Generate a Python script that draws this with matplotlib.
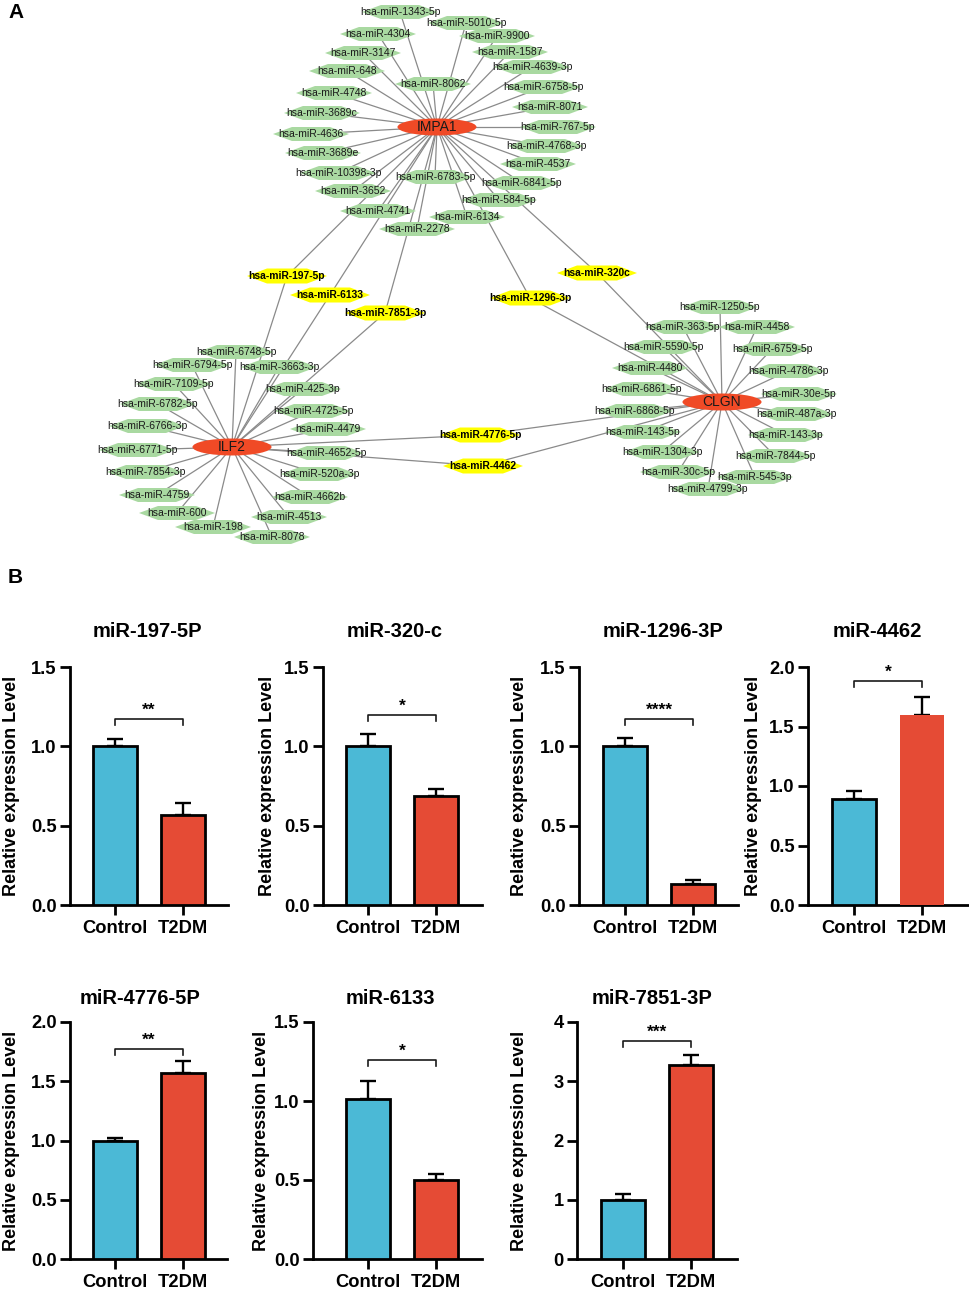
import matplotlib
matplotlib.use('Agg')
import matplotlib.pyplot as plt
from matplotlib.patches import Polygon, Ellipse

plt.rcParams['font.family'] = ['Liberation Sans', 'DejaVu Sans']

W, H = 969, 1290

# ---------------- Panel A data (network) ----------------
hubs = ['IMPA1', 'ILF2', 'CLGN']
impa1_targets = ['hsa-miR-1343-5p', 'hsa-miR-5010-5p', 'hsa-miR-4304', 'hsa-miR-9900',
                 'hsa-miR-3147', 'hsa-miR-1587', 'hsa-miR-648', 'hsa-miR-4639-3p',
                 'hsa-miR-8062', 'hsa-miR-6758-5p', 'hsa-miR-4748', 'hsa-miR-8071',
                 'hsa-miR-3689c', 'hsa-miR-767-5p', 'hsa-miR-4636', 'hsa-miR-4768-3p',
                 'hsa-miR-3689e', 'hsa-miR-4537', 'hsa-miR-10398-3p', 'hsa-miR-6783-5p',
                 'hsa-miR-6841-5p', 'hsa-miR-3652', 'hsa-miR-584-5p', 'hsa-miR-4741',
                 'hsa-miR-6134', 'hsa-miR-2278']
ilf2_targets = ['hsa-miR-6748-5p', 'hsa-miR-6794-5p', 'hsa-miR-3663-3p', 'hsa-miR-7109-5p',
                'hsa-miR-425-3p', 'hsa-miR-6782-5p', 'hsa-miR-4725-5p', 'hsa-miR-6766-3p',
                'hsa-miR-4479', 'hsa-miR-6771-5p', 'hsa-miR-4652-5p', 'hsa-miR-7854-3p',
                'hsa-miR-520a-3p', 'hsa-miR-4759', 'hsa-miR-4662b', 'hsa-miR-600',
                'hsa-miR-4513', 'hsa-miR-198', 'hsa-miR-8078']
clgn_targets = ['hsa-miR-1250-5p', 'hsa-miR-363-5p', 'hsa-miR-4458', 'hsa-miR-5590-5p',
                'hsa-miR-6759-5p', 'hsa-miR-4480', 'hsa-miR-4786-3p', 'hsa-miR-6861-5p',
                'hsa-miR-30e-5p', 'hsa-miR-6868-5p', 'hsa-miR-487a-3p', 'hsa-miR-143-5p',
                'hsa-miR-143-3p', 'hsa-miR-1304-3p', 'hsa-miR-7844-5p', 'hsa-miR-30c-5p',
                'hsa-miR-545-3p', 'hsa-miR-4799-3p']
shared_mirs = ['hsa-miR-197-5p', 'hsa-miR-6133', 'hsa-miR-7851-3p', 'hsa-miR-1296-3p',
               'hsa-miR-320c', 'hsa-miR-4776-5p', 'hsa-miR-4462']
shared_links = [['IMPA1', 'ILF2'], ['IMPA1', 'ILF2'], ['IMPA1', 'ILF2'], ['IMPA1', 'CLGN'],
                ['IMPA1', 'CLGN'], ['ILF2', 'CLGN'], ['ILF2', 'CLGN']]

# Node layout (pixel positions of the reference drawing)
layout = {
    'IMPA1': (437, 127), 'ILF2': (232, 447), 'CLGN': (722, 402),
    'hsa-miR-1343-5p': (400, 12), 'hsa-miR-5010-5p': (466, 23), 'hsa-miR-4304': (378, 34),
    'hsa-miR-9900': (497, 36), 'hsa-miR-3147': (363, 53), 'hsa-miR-1587': (510, 52),
    'hsa-miR-648': (347, 71), 'hsa-miR-4639-3p': (532, 67), 'hsa-miR-8062': (433, 84),
    'hsa-miR-6758-5p': (543, 87), 'hsa-miR-4748': (334, 93), 'hsa-miR-8071': (550, 107),
    'hsa-miR-3689c': (322, 113), 'hsa-miR-767-5p': (558, 127), 'hsa-miR-4636': (311, 134),
    'hsa-miR-4768-3p': (546, 146), 'hsa-miR-3689e': (323, 153), 'hsa-miR-4537': (538, 164),
    'hsa-miR-10398-3p': (338, 173), 'hsa-miR-6783-5p': (435, 177), 'hsa-miR-6841-5p': (522, 183),
    'hsa-miR-3652': (353, 191), 'hsa-miR-584-5p': (499, 200), 'hsa-miR-4741': (378, 211),
    'hsa-miR-6134': (467, 217), 'hsa-miR-2278': (417, 229),
    'hsa-miR-197-5p': (287, 276), 'hsa-miR-6133': (330, 295), 'hsa-miR-7851-3p': (385, 313),
    'hsa-miR-320c': (597, 273), 'hsa-miR-1296-3p': (530, 298), 'hsa-miR-4776-5p': (480, 435),
    'hsa-miR-4462': (483, 466),
    'hsa-miR-1250-5p': (720, 307), 'hsa-miR-363-5p': (683, 327), 'hsa-miR-4458': (757, 327),
    'hsa-miR-5590-5p': (663, 347), 'hsa-miR-6759-5p': (772, 349), 'hsa-miR-4480': (650, 368),
    'hsa-miR-4786-3p': (788, 371), 'hsa-miR-6861-5p': (642, 389), 'hsa-miR-30e-5p': (799, 394),
    'hsa-miR-6868-5p': (635, 411), 'hsa-miR-487a-3p': (796, 414), 'hsa-miR-143-5p': (643, 432),
    'hsa-miR-143-3p': (786, 435), 'hsa-miR-1304-3p': (662, 452), 'hsa-miR-7844-5p': (775, 456),
    'hsa-miR-30c-5p': (678, 472), 'hsa-miR-545-3p': (755, 477), 'hsa-miR-4799-3p': (708, 489),
    'hsa-miR-6748-5p': (236, 352), 'hsa-miR-6794-5p': (192, 365), 'hsa-miR-3663-3p': (279, 367),
    'hsa-miR-7109-5p': (174, 384), 'hsa-miR-425-3p': (303, 389), 'hsa-miR-6782-5p': (158, 404),
    'hsa-miR-4725-5p': (313, 411), 'hsa-miR-6766-3p': (147, 426), 'hsa-miR-4479': (328, 429),
    'hsa-miR-6771-5p': (137, 450), 'hsa-miR-4652-5p': (326, 453), 'hsa-miR-7854-3p': (145, 472),
    'hsa-miR-520a-3p': (319, 474), 'hsa-miR-4759': (157, 495), 'hsa-miR-4662b': (310, 497),
    'hsa-miR-600': (177, 513), 'hsa-miR-4513': (289, 517), 'hsa-miR-198': (213, 527),
    'hsa-miR-8078': (272, 537),
}

# ---------------- Panel B data (qPCR bars) ----------------
titles = ['miR-197-5P', 'miR-320-c', 'miR-1296-3P', 'miR-4462',
          'miR-4776-5P', 'miR-6133', 'miR-7851-3P']
groups = ['Control', 'T2DM']
control_mean = [1.00, 1.00, 1.00, 0.89, 1.00, 1.01, 1.00]
control_sem = [0.045, 0.08, 0.05, 0.07, 0.025, 0.115, 0.10]
t2dm_mean = [0.565, 0.69, 0.13, 1.60, 1.57, 0.50, 3.27]
t2dm_sem = [0.075, 0.04, 0.025, 0.15, 0.10, 0.04, 0.17]
significance = ['**', '*', '****', '*', '**', '*', '***']
bracket_y = [1.175, 1.195, 1.175, 1.88, 1.775, 1.26, 3.68]
y_max = [1.5, 1.5, 1.5, 2.0, 2.0, 1.5, 4]
y_step = [0.5, 0.5, 0.5, 0.5, 0.5, 0.5, 1]

# ---------------- Figure ----------------
fig = plt.figure(figsize=(W / 100, H / 100), dpi=100)

# ---- Panel A ----
NET_H = 560
axn = fig.add_axes([0, 1 - NET_H / H, 1, NET_H / H])
axn.set_xlim(0, W)
axn.set_ylim(NET_H, 0)
axn.axis('off')

EDGE_C = '#8a8a8a'
GREEN = '#a9d9a1'
YELLOW = '#ffff00'
HUB_C = '#f04a26'


def hexagon(cx, cy, w, h):
    return [(cx - w / 2, cy), (cx - w / 4, cy - h / 2), (cx + w / 4, cy - h / 2),
            (cx + w / 2, cy), (cx + w / 4, cy + h / 2), (cx - w / 4, cy + h / 2)]


def edge(a, b):
    (x1, y1), (x2, y2) = layout[a], layout[b]
    axn.plot([x1, x2], [y1, y2], color=EDGE_C, lw=0.9, zorder=1)


for hub, targets in zip(hubs, [impa1_targets, ilf2_targets, clgn_targets]):
    for t in targets:
        edge(hub, t)
for m, links in zip(shared_mirs, shared_links):
    for hub in links:
        edge(hub, m)

z = 2.0
for targets in [impa1_targets, ilf2_targets, clgn_targets]:
    for t in targets:
        cx, cy = layout[t]
        axn.add_patch(Polygon(hexagon(cx, cy, 76, 14), closed=True, facecolor=GREEN,
                              edgecolor='none', zorder=z))
        axn.text(cx, cy, t, ha='center', va='center', fontsize=7.5, color='#1a1a1a', zorder=z + 0.001)
        z += 0.01
for m in shared_mirs:
    cx, cy = layout[m]
    axn.add_patch(Polygon(hexagon(cx, cy, 80, 15), closed=True, facecolor=YELLOW,
                          edgecolor='none', zorder=z))
    axn.text(cx, cy, m, ha='center', va='center', fontsize=7.4, fontweight='bold',
             color='black', zorder=z + 0.001)
    z += 0.01
for hub in hubs:
    cx, cy = layout[hub]
    axn.add_patch(Ellipse((cx, cy), 79, 17, facecolor=HUB_C, edgecolor='none', zorder=z))
    axn.text(cx, cy, hub, ha='center', va='center', fontsize=10, color='#1a1a1a', zorder=z + 0.001)
    z += 0.01

# ---- Panel B ----
BLUE = '#4bb9d6'
RED = '#e54b35'
SPACING = 68.0
BAR_W = 44.0
# (axis left px, axis right px, control bar centre px, top px, bottom px, title x px, ylabel x px)
panel_box = [
    (70, 228, 115, 667, 905, 147, 12),
    (323, 482, 368, 667, 905, 395, 267),
    (579, 738, 625, 667, 905, 663, 519),
    (808, 969, 854, 667, 905, 877, 753),
    (70, 227, 115, 1022, 1259, 140, 12),
    (313, 482, 368, 1022, 1259, 390, 262),
    (577, 737, 623, 1022, 1259, 652, 520),
]
title_y = [632, 632, 632, 632, 998, 998, 998]
t2dm_edge = ['black', 'black', 'black', 'none', 'black', 'black', 'black']

for i in range(7):
    l, r, c1, t, b, tx, yx = panel_box[i]
    ax = fig.add_axes([l / W, 1 - b / H, (r - l) / W, (b - t) / H])
    ax.set_xlim(-(c1 - l) / SPACING, (r - c1) / SPACING)
    ax.set_ylim(0, y_max[i])
    means = [control_mean[i], t2dm_mean[i]]
    sems = [control_sem[i], t2dm_sem[i]]
    xs = [0, 1]
    ax.errorbar(xs, means, yerr=[[0, 0], sems], fmt='none', ecolor='black',
                elinewidth=1.7, capsize=5.5, capthick=1.7, zorder=2, clip_on=False)
    ax.bar(xs[0], means[0], width=BAR_W / SPACING, color=BLUE, edgecolor='black',
           linewidth=2.0, zorder=3)
    ax.bar(xs[1], means[1], width=BAR_W / SPACING, color=RED, edgecolor=t2dm_edge[i],
           linewidth=2.0, zorder=3)
    by = bracket_y[i]
    d = 6.0 / (b - t) * y_max[i]
    ax.plot([0, 0, 1, 1], [by - d, by, by, by - d], color='#1a1a1a', lw=1.2,
            clip_on=False, zorder=4)
    ax.text(0.5, by + 0.2 * d, significance[i], ha='center', va='bottom', fontsize=12.5,
            fontweight='bold', zorder=4)
    ticks = [k * y_step[i] for k in range(int(round(y_max[i] / y_step[i])) + 1)]
    ax.set_yticks(ticks)
    if y_step[i] >= 1:
        ax.set_yticklabels(['%d' % v for v in ticks])
    else:
        ax.set_yticklabels(['%.1f' % v for v in ticks])
    ax.set_xticks(xs)
    ax.set_xticklabels(groups)
    for s in ['top', 'right']:
        ax.spines[s].set_visible(False)
    for s in ['left', 'bottom']:
        ax.spines[s].set_linewidth(2.0)
    ax.tick_params(axis='both', width=2.0, length=7, labelsize=13.2, pad=2.5)
    ax.tick_params(axis='x', pad=4)
    for lab in ax.get_xticklabels() + ax.get_yticklabels():
        lab.set_fontweight('bold')
    fig.text(tx / W, 1 - title_y[i] / H, titles[i], ha='center', va='center',
             fontsize=14.5, fontweight='bold')
    fig.text(yx / W, 1 - (t + b) / 2 / H, 'Relative expression Level', rotation=90,
             ha='center', va='center', fontsize=13.0, fontweight='bold')

fig.text(8 / W, 1 - 13 / H, 'A', ha='left', va='center', fontsize=15, fontweight='bold')
fig.text(8 / W, 1 - 578 / H, 'B', ha='left', va='center', fontsize=15, fontweight='bold')

fig.savefig('out.png', dpi=100)
